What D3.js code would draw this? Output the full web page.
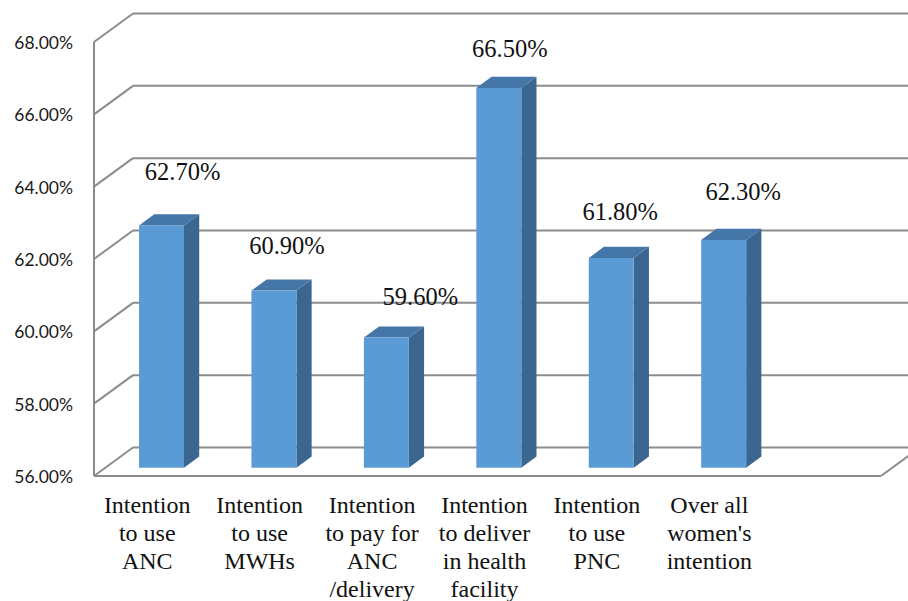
<!DOCTYPE html>
<html><head><meta charset="utf-8">
<script src="https://cdn.jsdelivr.net/npm/d3@7/dist/d3.min.js"></script>
</head><body style="margin:0">
<svg id="c" width="908" height="601"></svg>
<script>
// ---- data ----
const categories = [
  "Intention\nto use\nANC",
  "Intention\nto use\nMWHs",
  "Intention\nto pay for\nANC\n/delivery",
  "Intention\nto deliver\nin health\nfacility",
  "Intention\nto use\nPNC",
  "Over all\nwomen's\nintention"
];
const values = [62.7, 60.9, 59.6, 66.5, 61.8, 62.3];
const valueLabels = ["62.70%", "60.90%", "59.60%", "66.50%", "61.80%", "62.30%"];
const yTicks = [56, 58, 60, 62, 64, 66, 68];
const yTickLabels = ["56.00%", "58.00%", "60.00%", "62.00%", "64.00%", "66.00%", "68.00%"];
// manual label nudges (dx, dy) as in the original chart
const labelNudgeX = [21, 13, 34, 11, 9, 19.5];
const labelNudgeY = [-45, -36.5, -32.5, -31, -38, -40];

// ---- layout ----
const svg = d3.select("#c");
const W = 908;
const left = 94, right = 881;
const DX = 39, DY = 28.5;
const t0 = 0.29, t1 = 0.68;
const grid = "#8c8c8c";

const slots = categories.concat([" "]);
const x = d3.scaleBand().domain(slots).range([left, right]).padding(0);
const y = d3.scaleLinear().domain([56, 68]).range([476, 42]);
const barW = x.bandwidth() * 0.4;

yTicks.forEach(v => {
  svg.append("line").attr("x1", left).attr("y1", y(v)).attr("x2", left + DX).attr("y2", y(v) - DY)
    .attr("stroke", grid).attr("stroke-width", 2);
  svg.append("line").attr("x1", left + DX).attr("y1", y(v) - DY).attr("x2", W + 20).attr("y2", y(v) - DY)
    .attr("stroke", grid).attr("stroke-width", 2);
});
svg.append("line").attr("x1", left).attr("y1", y(68)).attr("x2", left).attr("y2", y(56))
  .attr("stroke", grid).attr("stroke-width", 2);
svg.append("line").attr("x1", left).attr("y1", y(56)).attr("x2", right).attr("y2", y(56))
  .attr("stroke", grid).attr("stroke-width", 2);
svg.append("line").attr("x1", right).attr("y1", y(56)).attr("x2", right + DX).attr("y2", y(56) - DY)
  .attr("stroke", grid).attr("stroke-width", 2);

svg.selectAll(null).data(yTicks).enter().append("text")
  .attr("x", 73).attr("y", d => y(d) + 7)
  .attr("text-anchor", "end")
  .attr("font-size", 17.5)
  .style("font-family", '"Lato"')
  .attr("fill", "#1a1a1a")
  .text((d, i) => yTickLabels[i]);

const fx = t0 * DX, fy = t0 * DY, bx = (t1 - t0) * DX, by = (t1 - t0) * DY;
values.forEach((v, i) => {
  const cx = x(categories[i]) + x.bandwidth() / 2;
  const x0 = cx - barW / 2 + fx, x1 = cx + barW / 2 + fx;
  const yb = y(56) - fy, yt = y(v) - fy;
  svg.append("path").attr("d", d3.line()([[x1, yt], [x1 + bx, yt - by], [x1 + bx, yb - by], [x1, yb]]))
    .attr("fill", "#3b6690");
  svg.append("path").attr("d", d3.line()([[x0, yt], [x0 + bx, yt - by], [x1 + bx, yt - by], [x1, yt]]))
    .attr("fill", "#4576a8");
  svg.append("rect").attr("x", x0).attr("y", yt).attr("width", barW).attr("height", yb - yt)
    .attr("fill", "#5b9bd5");
});

svg.selectAll(null).data(values).enter().append("text")
  .attr("x", (v, i) => x(categories[i]) + x.bandwidth() / 2 + fx + labelNudgeX[i])
  .attr("y", (v, i) => y(v) - fy + labelNudgeY[i])
  .attr("text-anchor", "middle")
  .attr("font-size", 24.5)
  .style("font-family", '"Liberation Serif"')
  .attr("fill", "#111")
  .text((v, i) => valueLabels[i]);

categories.forEach((c, i) => {
  const cx = x(c) + x.bandwidth() / 2 - 3;
  c.split("\n").forEach((line, k) => {
    svg.append("text").attr("text-anchor", "middle")
      .attr("x", cx).attr("y", 513 + k * 28)
      .attr("font-size", 24)
      .style("font-family", '"Liberation Serif"')
      .attr("fill", "#111")
      .text(line);
  });
});
</script>
</body></html>
